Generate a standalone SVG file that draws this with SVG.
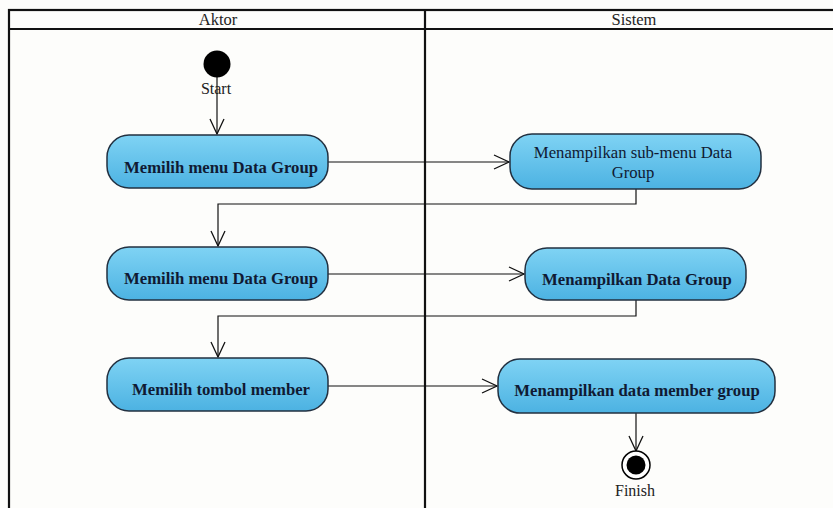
<svg xmlns="http://www.w3.org/2000/svg" width="833" height="508" viewBox="0 0 833 508">
<defs>
<linearGradient id="g" x1="0" y1="0" x2="0" y2="1">
<stop offset="0" stop-color="#7fd3f4"/>
<stop offset="1" stop-color="#4cb2e2"/>
</linearGradient>
<marker id="arr" markerWidth="18" markerHeight="16" refX="16" refY="8" orient="auto" markerUnits="userSpaceOnUse">
<path d="M1,1 L16,8 L1,15" fill="none" stroke="#111" stroke-width="1.3"/>
</marker>
</defs>
<style>
.act{fill:url(#g);stroke:#223040;stroke-width:1.5}
.lbl{font-family:"Liberation Serif","Times New Roman",serif;font-weight:bold;font-size:16.7px;fill:#101a33;text-anchor:middle}
.lbln{font-family:"Liberation Serif","Times New Roman",serif;font-size:16.7px;fill:#101a33;text-anchor:middle}
.hdr{font-family:"Liberation Serif","Times New Roman",serif;font-size:16.5px;fill:#222;text-anchor:middle}
.cap{font-family:"Liberation Serif","Times New Roman",serif;font-size:16px;fill:#222;text-anchor:middle}
.lane{fill:none;stroke:#111;stroke-width:2.2}
.con{fill:none;stroke:#111;stroke-width:1.2;marker-end:url(#arr)}
</style>
<rect width="833" height="508" fill="#fdfdfb"/>
<g id="swimlanes">
<rect class="lane" x="9" y="10" width="840" height="520"/>
<line class="lane" x1="9" y1="29" x2="840" y2="29"/>
<line class="lane" x1="425" y1="10" x2="425" y2="520"/>
<text class="hdr" x="218" y="25">Aktor</text>
<text class="hdr" x="634" y="25">Sistem</text>
</g>
<g id="connectors">
<line class="con" x1="217" y1="77" x2="217" y2="134"/>
<line class="con" x1="328" y1="162" x2="509" y2="162"/>
<polyline class="con" points="636,189 636,204 218,204 218,246"/>
<line class="con" x1="328" y1="274" x2="524" y2="274"/>
<polyline class="con" points="636,300 636,316 218,316 218,357"/>
<line class="con" x1="328" y1="386" x2="497" y2="386"/>
<line class="con" x1="636" y1="413" x2="636" y2="451"/>
</g>
<g id="start">
<circle cx="217" cy="64" r="13.5" fill="#000"/>
<text class="cap" x="216" y="94">Start</text>
</g>
<g id="a1">
<rect class="act" x="107" y="135" width="221" height="53" rx="22"/>
<text class="lbl" x="221" y="173">Memilih menu Data Group</text>
</g>
<g id="a2">
<rect class="act" x="107" y="247" width="221" height="53" rx="22"/>
<text class="lbl" x="221" y="284">Memilih menu Data Group</text>
</g>
<g id="a3">
<rect class="act" x="107" y="358" width="221" height="53" rx="22"/>
<text class="lbl" x="221" y="395">Memilih tombol member</text>
</g>
<g id="s1">
<rect class="act" x="510" y="134" width="251" height="55" rx="22"/>
<text class="lbln" x="633" y="158">Menampilkan sub-menu Data</text>
<text class="lbln" x="633" y="178">Group</text>
</g>
<g id="s2">
<rect class="act" x="525" y="248" width="221" height="52" rx="22"/>
<text class="lbl" x="637" y="285">Menampilkan Data Group</text>
</g>
<g id="s3">
<rect class="act" x="498" y="359" width="277" height="54" rx="22"/>
<text class="lbl" x="637" y="396">Menampilkan data member group</text>
</g>
<g id="finish">
<circle cx="636" cy="465" r="14" fill="#fff" stroke="#000" stroke-width="1.5"/>
<circle cx="636" cy="465" r="9.5" fill="#000"/>
<text class="cap" x="635" y="496">Finish</text>
</g>
</svg>
